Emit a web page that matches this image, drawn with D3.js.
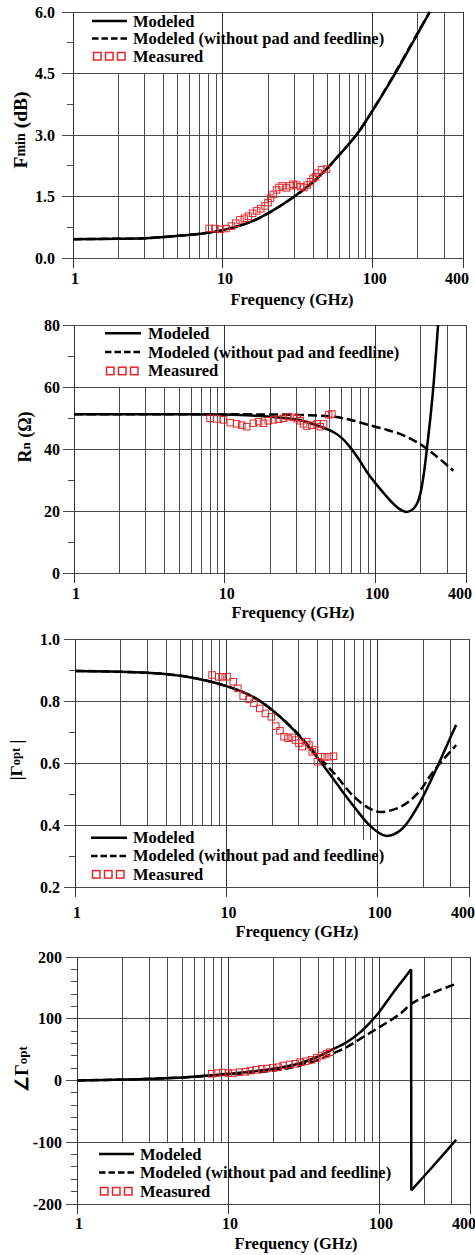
<!DOCTYPE html>
<html><head><meta charset="utf-8">
<script src="https://cdn.jsdelivr.net/npm/d3@7"></script>
<style>
body{margin:0;background:#fff}
svg{display:block}
text{font-family:"Liberation Serif","Times New Roman",serif;font-weight:bold;fill:#000}
</style>
</head><body><svg id="c" width="475" height="1255"></svg>
<script>
// ---------- shared axis data ----------
const xTickValues = [1, 10, 100, 400];
const xTickLabels = ["1", "10", "100", "400"];
const xGridValues = [2,3,4,5,6,7,8,9,20,30,40,50,60,70,80,90,200,300];
const legendLabels = ["Modeled", "Modeled (without pad and feedline)", "Measured"];
const xTitle = "Frequency (GHz)";

// ---------- Panel 1: Fmin (dB) ----------
const fminYTicks = [0, 1.5, 3, 4.5, 6];
const fminYTickLabels = ["0.0", "1.5", "3.0", "4.5", "6.0"];
const fminModeledF = [1, 2, 3, 5, 7, 10, 15, 20, 30, 40, 50, 60, 70, 80, 90, 100, 120, 140, 170, 200, 240];
const fminModeled  = [0.46, 0.47, 0.48, 0.54, 0.59, 0.68, 0.87, 1.09, 1.50, 1.86, 2.20, 2.52, 2.80, 3.06, 3.34, 3.60, 4.07, 4.48, 5.02, 5.48, 6.0];
const fminNoPadF   = [1, 2, 3, 5, 7, 10, 15, 20, 30, 40, 50, 60, 70, 80, 90, 100, 120, 140, 170, 200, 240];
const fminNoPad    = [0.46, 0.47, 0.48, 0.54, 0.59, 0.68, 0.87, 1.09, 1.50, 1.86, 2.20, 2.52, 2.80, 3.06, 3.34, 3.61, 4.08, 4.50, 5.04, 5.50, 6.0];
const fminMeasF = [8.1, 8.85, 9.65, 10.5, 11.4, 12.2, 13.0, 13.9, 14.8, 15.8, 16.8, 17.9, 19.1, 20.0, 20.8, 21.7, 22.8, 23.7, 24.8, 26.6, 28.0, 29.4, 31.0, 33.0, 34.7, 36.5, 38.4, 40.0, 41.5, 43.2, 45.5, 49.1];
const fminMeas  = [0.72, 0.72, 0.70, 0.72, 0.78, 0.85, 0.93, 0.97, 1.02, 1.09, 1.15, 1.20, 1.27, 1.35, 1.46, 1.55, 1.66, 1.72, 1.76, 1.71, 1.76, 1.80, 1.78, 1.74, 1.72, 1.78, 1.86, 1.94, 1.98, 2.07, 2.15, 2.17];

// ---------- Panel 2: Rn (Ohm) ----------
const rnYTicks = [0, 20, 40, 60, 80];
const rnYTickLabels = ["0", "20", "40", "60", "80"];
const rnModeledF = [1, 3, 10, 19, 25, 32, 41, 53, 60, 68, 78, 88, 100, 115, 130, 145, 162, 178, 190, 200, 210, 220, 232, 244, 261];
const rnModeled  = [51.2, 51.2, 51.1, 50.5, 50.0, 49.3, 47.6, 45.4, 43.5, 40.6, 36.6, 32.6, 29.0, 25.5, 22.6, 20.6, 19.7, 20.6, 22.6, 26.0, 32.0, 40.0, 50.0, 61.2, 80];
const rnNoPadF = [1, 10, 30, 53, 70, 88, 113, 147, 189, 244, 330];
const rnNoPad  = [51.2, 51.2, 51.0, 50.4, 49.3, 47.9, 46.5, 44.8, 42.2, 38.4, 33.0];
const rnMeasF = [8.0, 8.87, 9.82, 10.9, 12.0, 13.0, 14.0, 15.5, 16.8, 18.1, 19.5, 21.1, 22.8, 24.6, 26.5, 28.7, 30.2, 31.8, 33.4, 35.2, 37.9, 41.0, 43.1, 45.4, 49.0, 51.5];
const rnMeas  = [49.9, 49.7, 49.4, 48.5, 48.1, 47.7, 47.2, 48.3, 48.8, 48.3, 49.1, 49.4, 49.6, 49.9, 50.4, 50.2, 49.8, 49.1, 48.1, 47.4, 47.7, 48.1, 47.2, 48.1, 51.0, 51.3];

// ---------- Panel 3: |Gamma_opt| ----------
const gmYTicks = [0.2, 0.4, 0.6, 0.8, 1.0];
const gmYTickLabels = ["0.2", "0.4", "0.6", "0.8", "1.0"];
const gmModeledF = [1, 3, 5.5, 10, 15.2, 20.6, 27.9, 37.9, 51.4, 69.7, 89.9, 113, 142, 183, 236, 290, 329];
const gmModeled  = [0.897, 0.891, 0.878, 0.848, 0.812, 0.766, 0.706, 0.631, 0.545, 0.459, 0.395, 0.365, 0.384, 0.459, 0.567, 0.664, 0.723];
const gmNoPadF = [1, 3, 5.5, 10, 15.2, 20.6, 27.9, 37.9, 51.4, 69.7, 89.9, 104.7, 142, 183, 236, 329];
const gmNoPad  = [0.897, 0.891, 0.878, 0.848, 0.812, 0.766, 0.708, 0.636, 0.567, 0.491, 0.451, 0.442, 0.459, 0.502, 0.577, 0.658];
const gmMeasF = [8.04, 8.9, 9.36, 10.1, 11.1, 11.9, 12.9, 14.1, 15.2, 16.6, 18.1, 19.8, 21.2, 22.6, 24.0, 25.5, 27.2, 28.6, 30.1, 31.7, 33.9, 35.1, 36.9, 38.3, 39.9, 42.0, 44.6, 47.6, 50.9];
const gmMeas  = [0.884, 0.878, 0.878, 0.878, 0.862, 0.841, 0.816, 0.805, 0.793, 0.776, 0.760, 0.749, 0.719, 0.704, 0.685, 0.680, 0.683, 0.674, 0.664, 0.653, 0.669, 0.658, 0.636, 0.642, 0.604, 0.620, 0.620, 0.620, 0.622];

// ---------- Panel 4: angle Gamma_opt ----------
const gaYTicks = [-200, -100, 0, 100, 200];
const gaYTickLabels = ["-200", "-100", "0", "100", "200"];
const gaModeledF = [1, 2, 5, 10, 20, 30, 39.6, 48.6, 61, 74.9, 87.2, 100, 118, 138, 163, 163.5, 229, 324];
const gaModeled  = [0, 1.5, 5, 10.8, 19, 28, 38.9, 49.7, 62, 78, 94, 110.6, 135, 157, 180, -178, -138, -96];
const gaNoPadF = [1, 2, 5, 10, 20, 30, 39.6, 48.6, 61, 75, 100, 138, 163, 207, 253, 324];
const gaNoPad  = [0, 1.5, 5, 10, 16, 24.3, 33.5, 43, 54, 67.5, 86, 108, 124, 137.6, 146.8, 156.5];
const gaMeasF = [7.8, 8.4, 9.2, 10.05, 10.8, 11.9, 13.0, 14.0, 15.3, 16.7, 18.0, 19.8, 21.5, 23.2, 25.5, 27.8, 30.0, 32.8, 35.8, 38.7, 41.7, 45.0, 47.3];
const gaMeas  = [10.8, 11.9, 13.0, 11.9, 11.9, 13.5, 14.0, 16.0, 17.3, 18.9, 19.4, 20.5, 21.6, 24.3, 25.9, 27.0, 29.7, 31.3, 33.5, 36.7, 40.5, 43.2, 45.8];

// ---------- layout ----------
const panels = [
  {left:73, right:463, top:12, bottom:258, yDomain:[0,6], yTicks:fminYTicks, yLabels:fminYTickLabels, minorStep:0.75,
   tickLabelX:55, xLabelBase:284, titleBase:305, titleX:292,
   ylab:{x:20, y:130, parts:[["F",19.5],["min",14],[" (dB)",19.5]]},
   boxes:[[1,180,4.5,6]], leg:{x:92, y:21, gap:17.5, len:35, tx:133},
   solid:[fminModeledF,fminModeled], dashed:[fminNoPadF,fminNoPad], meas:[fminMeasF,fminMeas]},
  {left:74, right:466, top:325, bottom:573, yDomain:[0,80], yTicks:rnYTicks, yLabels:rnYTickLabels, minorStep:10,
   tickLabelX:60, xLabelBase:599, titleBase:618, titleX:293,
   ylab:{x:25, y:437, parts:[["R",18],["n",13],[" (\u03A9)",18]]},
   boxes:[[1,180,60,80]], leg:{x:105, y:333.3, gap:18.7, len:36, tx:148},
   solid:[rnModeledF,rnModeled], dashed:[rnNoPadF,rnNoPad], meas:[rnMeasF,rnMeas]},
  {left:75, right:469, top:639, bottom:887, yDomain:[0.2,1.0], yTicks:gmYTicks, yLabels:gmYTickLabels, minorStep:0.1,
   tickLabelX:60, xLabelBase:918, titleBase:937, titleX:297,
   ylab:{x:16, y:760, parts:[["|\u0393",17.5],["opt",12.5],[" |",17.5]]},
   boxes:[[1,78,0.2,0.4],[78,180,0.2,0.355]], leg:{x:91, y:837.7, gap:18.2, len:36, tx:133},
   solid:[gmModeledF,gmModeled], dashed:[gmNoPadF,gmNoPad], meas:[gmMeasF,gmMeas]},
  {left:77, right:470, top:957, bottom:1204, yDomain:[-200,200], yTicks:gaYTicks, yLabels:gaYTickLabels, minorStep:20,
   tickLabelX:62, xLabelBase:1229, titleBase:1249, titleX:296,
   ylab:{x:22, y:1069, parts:[["\u2220\u0393",18],["opt",13]]},
   boxes:[[1,185,-200,-100]], leg:{x:99, y:1154, gap:18.5, len:35, tx:140},
   solid:[gaModeledF,gaModeled], dashed:[gaNoPadF,gaNoPad], meas:[gaMeasF,gaMeas]}
];

const svg = d3.select("#c");
const gridColor = "#4a4a4a";
const measColor = "#e3262b";

panels.forEach(p => {
  const g = svg.append("g");
  const x = d3.scaleLog().domain([1,400]).range([p.left, p.right]);
  const y = d3.scaleLinear().domain(p.yDomain).range([p.bottom, p.top]);

  // vertical grid lines
  g.selectAll(null).data(xGridValues).enter().append("line")
    .attr("x1", d => x(d)).attr("x2", d => x(d))
    .attr("y1", p.top).attr("y2", p.bottom)
    .attr("stroke", gridColor).attr("stroke-width", 1).attr("shape-rendering","crispEdges");

  // white legend background over the grid
  p.boxes.forEach(b => {
    g.append("rect")
      .attr("x", x(b[0]) + 1).attr("y", y(b[3]) + 1)
      .attr("width", x(b[1]) - x(b[0]) - 1)
      .attr("height", y(b[2]) - y(b[3]) - 1)
      .attr("fill", "#fff");
  });

  // horizontal grid lines at major ticks (extend left as tick marks)
  g.selectAll(null).data(p.yTicks).enter().append("line")
    .attr("x1", p.left - 11).attr("x2", p.right)
    .attr("y1", d => y(d)).attr("y2", d => y(d))
    .attr("stroke", gridColor).attr("stroke-width", 1).attr("shape-rendering","crispEdges");

  // minor ticks
  const minors = d3.range(p.yDomain[0], p.yDomain[1] + 1e-9, p.minorStep)
    .filter(v => !p.yTicks.some(t => Math.abs(t - v) < 1e-6));
  g.selectAll(null).data(minors).enter().append("line")
    .attr("x1", p.left - 6).attr("x2", p.left)
    .attr("y1", d => y(d)).attr("y2", d => y(d))
    .attr("stroke", gridColor).attr("stroke-width", 1).attr("shape-rendering","crispEdges");

  // x-axis major ticks (full height + stub below)
  g.selectAll(null).data(xTickValues).enter().append("line")
    .attr("x1", d => x(d)).attr("x2", d => x(d))
    .attr("y1", p.top).attr("y2", p.bottom + 10)
    .attr("stroke", "#333").attr("stroke-width", 1).attr("shape-rendering","crispEdges");

  // y tick labels
  g.selectAll(null).data(p.yTicks).enter().append("text")
    .attr("x", p.tickLabelX).attr("y", d => y(d) + 5.5)
    .attr("text-anchor", "end").attr("font-size", 16)
    .text((d,i) => p.yLabels[i]);

  // x tick labels
  g.selectAll(null).data(xTickValues).enter().append("text")
    .attr("x", (d,i) => x(d) + (i === 3 ? -6 : 2)).attr("y", p.xLabelBase)
    .attr("text-anchor", "middle").attr("font-size", 16)
    .text((d,i) => xTickLabels[i]);

  // x title
  g.append("text").attr("x", p.titleX).attr("y", p.titleBase)
    .attr("text-anchor", "middle").attr("font-size", 16.5).text(xTitle);

  // y title
  const yt = g.append("text")
    .attr("transform", `translate(${p.ylab.x},${p.ylab.y}) rotate(-90)`)
    .attr("text-anchor", "middle").attr("dominant-baseline", "central");
  p.ylab.parts.forEach(pt => yt.append("tspan").attr("font-size", pt[1]).text(pt[0]));

  // curves
  const toPts = s => s[0].map((f,i) => [f, s[1][i]]);
  const line = d3.line().x(d => x(d[0])).y(d => y(d[1])).curve(d3.curveCatmullRom.alpha(0.5));
  const drawSeries = (s, dash) => {
    const pts = toPts(s);
    // split at phase wraps (jump of more than 180)
    const segs = [[pts[0]]];
    for (let i = 1; i < pts.length; i++) {
      if (Math.abs(pts[i][1] - pts[i-1][1]) > 180) segs.push([]);
      segs[segs.length-1].push(pts[i]);
    }
    segs.forEach((seg, k) => {
      g.append("path").attr("d", line(seg)).attr("fill", "none")
        .attr("stroke", "#000").attr("stroke-width", 2.5)
        .attr("stroke-dasharray", dash ? "9,4" : null);
      if (k > 0) {
        const a = segs[k-1][segs[k-1].length-1], b = seg[0];
        g.append("line").attr("x1", x(a[0])).attr("y1", y(a[1]))
          .attr("x2", x(b[0])).attr("y2", y(b[1]))
          .attr("stroke", "#000").attr("stroke-width", 2.5);
      }
    });
  };
  drawSeries(p.dashed, true);
  drawSeries(p.solid, false);

  // measured squares
  const sq = 6.5;
  g.selectAll(null).data(toPts(p.meas)).enter().append("rect")
    .attr("x", d => x(d[0]) - sq/2).attr("y", d => y(d[1]) - sq/2)
    .attr("width", sq).attr("height", sq)
    .attr("fill", "none").attr("stroke", measColor).attr("stroke-width", 1);

  // legend
  const L = p.leg;
  g.append("line").attr("x1", L.x).attr("x2", L.x + L.len).attr("y1", L.y).attr("y2", L.y)
    .attr("stroke", "#000").attr("stroke-width", 2.5);
  g.append("line").attr("x1", L.x).attr("x2", L.x + L.len).attr("y1", L.y + L.gap).attr("y2", L.y + L.gap)
    .attr("stroke", "#000").attr("stroke-width", 2.5).attr("stroke-dasharray", "6.5,3");
  [0,1,2].forEach(k => {
    g.append("rect").attr("x", L.x + 1.5 + k*12).attr("y", L.y + 2*L.gap - 3.5)
      .attr("width", 7.5).attr("height", 7.5)
      .attr("fill", "none").attr("stroke", measColor).attr("stroke-width", 1.5);
  });
  legendLabels.forEach((t, k) => {
    g.append("text").attr("x", L.tx).attr("y", L.y + k*L.gap + 5.5)
      .attr("font-size", 16.5).text(t);
  });
});
</script>
</body></html>
